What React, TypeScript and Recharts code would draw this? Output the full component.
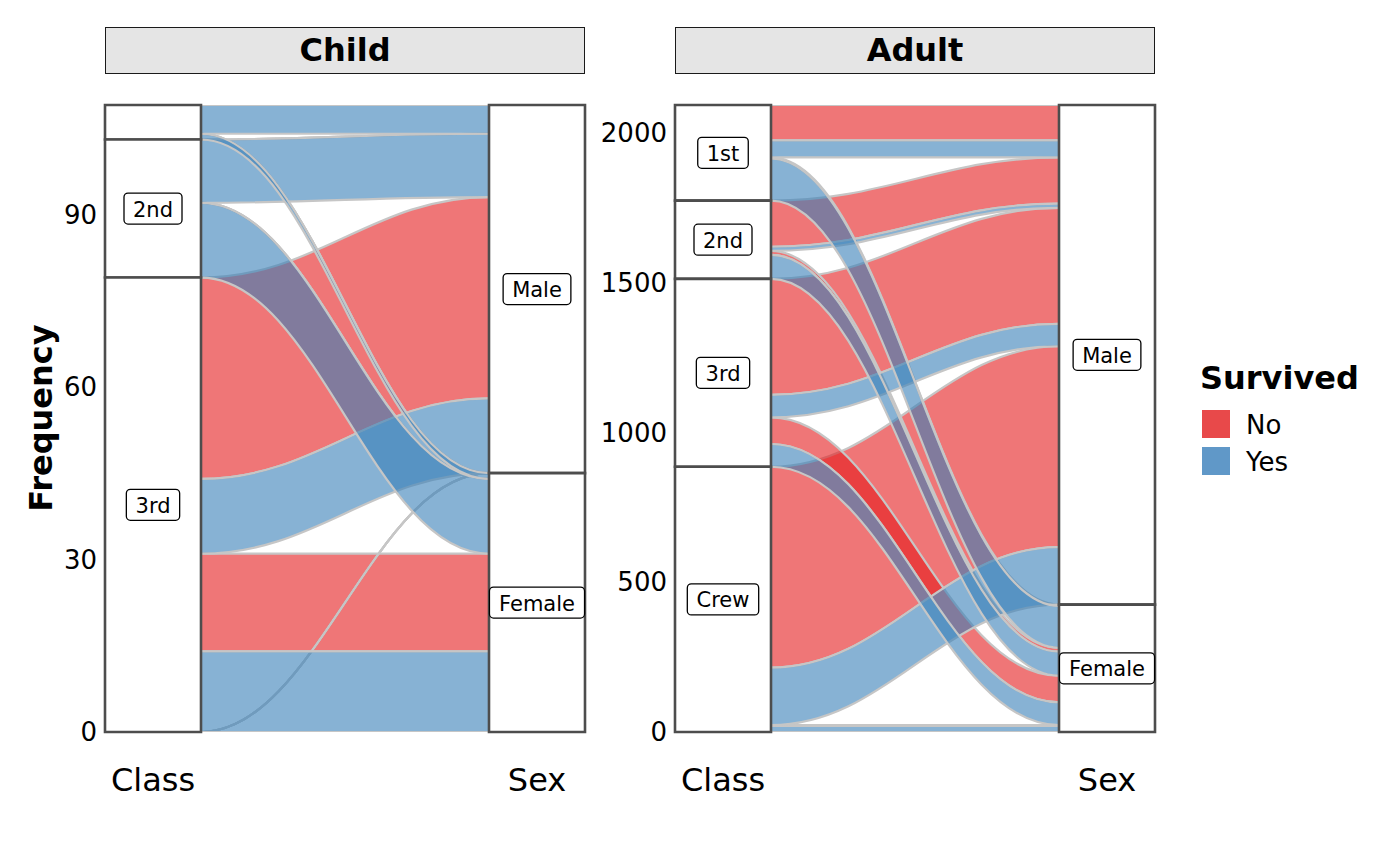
import React from "react";
import { ComposedChart, Area, Line, XAxis, YAxis, ReferenceArea, ReferenceDot } from "recharts";

const FONT = "'DejaVu Sans', 'Noto Sans', sans-serif";

// ---- categories ----
const classes = ["1st", "2nd", "3rd", "Crew"];
const sexes = ["Male", "Female"];
const survivedLevels = ["No", "Yes"];
const axisNames = ["Class", "Sex"];
const facets = ["Child", "Adult"];

// ---- counts per class (1st, 2nd, 3rd, Crew) ----
const childMaleNo = [0, 0, 35, 0];
const childMaleYes = [5, 11, 13, 0];
const childFemaleNo = [0, 0, 17, 0];
const childFemaleYes = [1, 13, 14, 0];

const adultMaleNo = [118, 154, 387, 670];
const adultMaleYes = [57, 14, 75, 192];
const adultFemaleNo = [4, 13, 89, 3];
const adultFemaleYes = [140, 80, 76, 20];

// ---- tick labels ----
const childTicks = [0, 30, 60, 90];
const adultTicks = [0, 500, 1000, 1500, 2000];

// ---- styles ----
const flowColors = ["#E41A1C", "#377EB8"];
const legendColors = ["#E8494A", "#6098C8"];
const FLOW_ALPHA = 0.6;
const STRATUM_W = 0.25;
const FLOW_STROKE = "#C6C6C6";

// custom sigmoid curve (x-spline like) usable as a d3 curve factory
function makeCurve(k: number) {
  return function (context: any) {
    const c: any = {
      _line: NaN,
      _point: 0,
      _x0: 0,
      _y0: 0,
      areaStart() { this._line = 0; },
      areaEnd() { this._line = NaN; },
      lineStart() { this._point = 0; },
      lineEnd() {
        if (this._line || (this._line !== 0 && this._point === 1)) context.closePath();
        this._line = 1 - this._line;
      },
      point(x: number, y: number) {
        x = +x; y = +y;
        if (this._point === 0) {
          this._point = 1;
          if (this._line) context.lineTo(x, y);
          else context.moveTo(x, y);
        } else {
          this._point = 2;
          const dx = x - this._x0;
          context.bezierCurveTo(this._x0 + k * dx, this._y0, x - k * dx, y, x, y);
        }
        this._x0 = x; this._y0 = y;
      },
    };
    return c;
  };
}
const flowCurve = makeCurve(0.4);

type Counts = number[][][];

function toCounts(mNo: number[], mYes: number[], fNo: number[], fYes: number[]): Counts {
  return classes.map((_, ci) => [
    [mNo[ci], mYes[ci]],
    [fNo[ci], fYes[ci]],
  ]);
}

function buildPanel(counts: Counts) {
  let total = 0;
  counts.forEach((a) => a.forEach((b) => b.forEach((n) => (total += n))));
  const left: Record<string, [number, number]> = {};
  const right: Record<string, [number, number]> = {};
  const classStrata: { name: string; lo: number; hi: number }[] = [];
  const sexStrata: { name: string; lo: number; hi: number }[] = [];
  let cur = total;
  classes.forEach((c, ci) => {
    const top = cur;
    sexes.forEach((_, si) =>
      survivedLevels.forEach((_, vi) => {
        const n = counts[ci][si][vi];
        left[`f${ci}${si}${vi}`] = [cur - n, cur];
        cur -= n;
      })
    );
    classStrata.push({ name: c, lo: cur, hi: top });
  });
  cur = total;
  sexes.forEach((s, si) => {
    const top = cur;
    classes.forEach((_, ci) =>
      survivedLevels.forEach((_, vi) => {
        const n = counts[ci][si][vi];
        right[`f${ci}${si}${vi}`] = [cur - n, cur];
        cur -= n;
      })
    );
    sexStrata.push({ name: s, lo: cur, hi: top });
  });
  const rows = [
    { x: 1 + STRATUM_W / 2, ...left },
    { x: 2 - STRATUM_W / 2, ...right },
  ];
  const flows: { key: string; vi: number }[] = [];
  [0, 1].forEach((vi) =>
    [3, 2, 1, 0].forEach((ci) =>
      [1, 0].forEach((si) => flows.push({ key: `f${ci}${si}${vi}`, vi }))
    )
  );
  return { total, rows, flows, classStrata, sexStrata };
}

const charW: Record<string, number> = {
  "1": 0.636, "2": 0.636, "3": 0.636, s: 0.521, t: 0.392, n: 0.634, d: 0.635, r: 0.411,
  C: 0.698, w: 0.818, e: 0.615, M: 0.863, a: 0.613, l: 0.278, F: 0.575, m: 0.974,
};
function textWidth(t: string, size: number) {
  let w = 0;
  for (const ch of t) w += (charW[ch] ?? 0.6) * size;
  return w;
}

function makeLabelShape(text: string) {
  return (props: any) => {
    const { cx, cy } = props;
    const fs = 21;
    const w = textWidth(text, fs) + 18;
    const h = 31;
    return (
      <g>
        <rect x={cx - w / 2} y={cy - h / 2} width={w} height={h} rx={4} ry={4} fill="#fff" stroke="#000" strokeWidth={1.3} />
        <text x={cx} y={cy + 1} textAnchor="middle" dominantBaseline="central" fontSize={fs} fontFamily={FONT} fill="#000">
          {text}
        </text>
      </g>
    );
  };
}

function Panel({ title, counts, ticks, left }: { title: string; counts: Counts; ticks: number[]; left: number }) {
  const p = buildPanel(counts);
  const minLabel = p.total * 0.1;
  const n = p.flows.length;
  return (
    <div style={{ position: "absolute", left, top: 0, width: 600, height: 866 }}>
      <div
        style={{
          position: "absolute", left: 105, top: 27, width: 480, height: 47, boxSizing: "border-box",
          background: "#E5E5E5", border: "1.5px solid #1a1a1a", fontFamily: FONT, fontWeight: "bold",
          fontSize: 32, lineHeight: "44px", textAlign: "center", color: "#000",
        }}
      >
        {title}
      </div>
      <div style={{ position: "absolute", left: 0, top: 0 }}>
        <ComposedChart width={600} height={866} data={p.rows} margin={{ top: 105, right: 15, bottom: 0, left: 25 }}>
          <XAxis
            type="number" dataKey="x" domain={[1 - STRATUM_W / 2, 2 + STRATUM_W / 2]} ticks={[1, 2]}
            tickFormatter={(v: number) => axisNames[v - 1]} axisLine={false} tickLine={false}
            tickSize={0} tickMargin={36} height={134} allowDataOverflow
            tick={{ fontSize: 32, fill: "#000", fontFamily: FONT }}
          />
          <YAxis
            type="number" domain={[0, p.total]} ticks={ticks} width={80} axisLine={false} tickLine={false}
            tickSize={0} tickMargin={8} allowDataOverflow interval={0}
            tick={{ fontSize: 26, fill: "#000", fontFamily: FONT }}
          />
          {p.flows.map((f, i) => [
            <Area
              key={f.key + "a"} dataKey={f.key} type={flowCurve as any} fill={flowColors[f.vi]} fillOpacity={FLOW_ALPHA}
              stroke="none" isAnimationActive={false} dot={false} activeDot={false} {...({ zIndex: 100 + i * 3 } as any)}
            />,
            <Line
              key={f.key + "t"} dataKey={(d: any) => d[f.key][1]} type={flowCurve as any} stroke={FLOW_STROKE}
              strokeWidth={2.2} isAnimationActive={false} dot={false} activeDot={false} {...({ zIndex: 101 + i * 3 } as any)}
            />,
            <Line
              key={f.key + "b"} dataKey={(d: any) => d[f.key][0]} type={flowCurve as any} stroke={FLOW_STROKE}
              strokeWidth={2.2} isAnimationActive={false} dot={false} activeDot={false} {...({ zIndex: 102 + i * 3 } as any)}
            />,
          ])}
          {p.classStrata.map((s) => (
            <ReferenceArea key={"c" + s.name} x1={1 - STRATUM_W / 2} x2={1 + STRATUM_W / 2} y1={s.lo} y2={s.hi}
              fill="#fff" fillOpacity={1} stroke="#4D4D4D" strokeWidth={2.6} ifOverflow="visible"
              {...({ zIndex: 100 + n * 3 + 10 } as any)} />
          ))}
          {p.sexStrata.map((s) => (
            <ReferenceArea key={"s" + s.name} x1={2 - STRATUM_W / 2} x2={2 + STRATUM_W / 2} y1={s.lo} y2={s.hi}
              fill="#fff" fillOpacity={1} stroke="#4D4D4D" strokeWidth={2.6} ifOverflow="visible"
              {...({ zIndex: 100 + n * 3 + 10 } as any)} />
          ))}
          {p.classStrata.filter((s) => s.hi - s.lo > minLabel).map((s) => (
            <ReferenceDot key={"lc" + s.name} x={1} y={(s.lo + s.hi) / 2} r={1} shape={makeLabelShape(s.name)} ifOverflow="visible"
              {...({ zIndex: 100 + n * 3 + 20 } as any)} />
          ))}
          {p.sexStrata.filter((s) => s.hi - s.lo > minLabel).map((s) => (
            <ReferenceDot key={"ls" + s.name} x={2} y={(s.lo + s.hi) / 2} r={1} shape={makeLabelShape(s.name)} ifOverflow="visible"
              {...({ zIndex: 100 + n * 3 + 20 } as any)} />
          ))}
        </ComposedChart>
      </div>
    </div>
  );
}

export default function App() {
  const child = toCounts(childMaleNo, childMaleYes, childFemaleNo, childFemaleYes);
  const adult = toCounts(adultMaleNo, adultMaleYes, adultFemaleNo, adultFemaleYes);
  return (
    <div style={{ position: "absolute", left: 0, top: 0, width: 1400, height: 866, background: "#fff", overflow: "hidden" }}>
      <Panel title={facets[0]} counts={child} ticks={childTicks} left={0} />
      <Panel title={facets[1]} counts={adult} ticks={adultTicks} left={570} />
      <svg width={1400} height={866} style={{ position: "absolute", left: 0, top: 0, pointerEvents: "none" }}>
        <text x={41} y={418} transform="rotate(-90 41 418)" textAnchor="middle" dominantBaseline="central"
          fontFamily={FONT} fontWeight="bold" fontSize={32} fill="#000">Frequency</text>
        <text x={1200} y={378} dominantBaseline="central" fontFamily={FONT} fontWeight="bold" fontSize={32} fill="#000">Survived</text>
        {survivedLevels.map((lv, i) => (
          <g key={lv}>
            <rect x={1202} y={410 + i * 37} width={28} height={28} fill={legendColors[i]} />
            <text x={1246} y={425 + i * 37} dominantBaseline="central" fontFamily={FONT} fontSize={26} fill="#000">{lv}</text>
          </g>
        ))}
      </svg>
    </div>
  );
}
